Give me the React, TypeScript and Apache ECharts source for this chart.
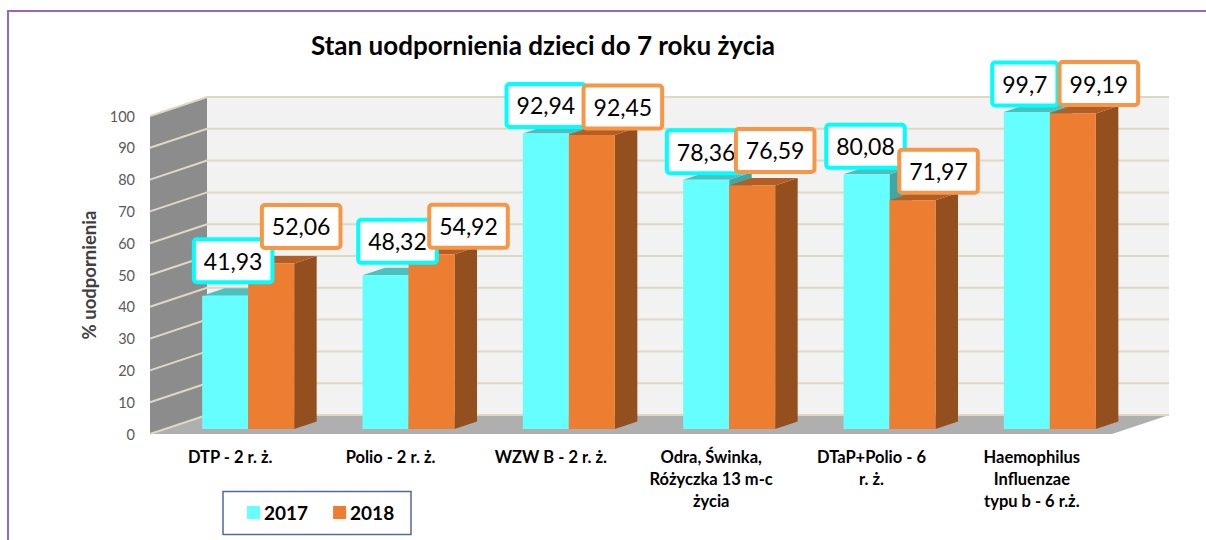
import React, { useEffect, useRef } from "react";
import * as echarts from "echarts";

const categories = [
  "DTP - 2 r. ż.",
  "Polio - 2 r. ż.",
  "WZW B - 2 r. ż.",
  "Odra, Świnka,\nRóżyczka 13 m-c\nżycia",
  "DTaP+Polio - 6\nr. ż.",
  "Haemophilus\nInfluenzae\ntypu b - 6 r.ż.",
];
const values2017 = [41.93, 48.32, 92.94, 78.36, 80.08, 99.7];
const values2018 = [52.06, 54.92, 92.45, 76.59, 71.97, 99.19];
const labels2017 = ["41,93", "48,32", "92,94", "78,36", "80,08", "99,7"];
const labels2018 = ["52,06", "54,92", "92,45", "76,59", "71,97", "99,19"];
const yTicks = [0, 10, 20, 30, 40, 50, 60, 70, 80, 90, 100];

// manual label placement, relative to each bar's top centre
const labelOffset2017 = [[8, -35], [12, -34], [0, -28], [0, -28], [-1, -28], [-2, -28]];
const labelOffset2018 = [[30, -37], [37, -28], [31, -28], [23, -35], [26, -29], [26, -30]];

const FONT = "Lato, 'Open Sans', sans-serif";
const WALL_DX = 57;
const WALL_DY = -19;
const BAR_W = 46;
const BAR_DX = 22.5;
const BAR_DY = -7.5;
const BASE_DX = 18;
const BASE_DY = -5;

const poly = (points: number[][], fill: string) => ({
  type: "polygon",
  shape: { points },
  style: { fill },
  silent: true,
});

function wallItem(params: any, api: any) {
  const cs = params.coordSys;
  const v = api.value(1);
  const y = api.coord([0, v])[1];
  const left = cs.x;
  const right = cs.x + cs.width;
  const bottom = cs.y + cs.height;
  const top = cs.y;
  const children: any[] = [];
  if (params.dataIndex === 0) {
    children.push(
      poly([[left + WALL_DX, top + WALL_DY], [right + WALL_DX, top + WALL_DY], [right + WALL_DX, bottom + WALL_DY], [left + WALL_DX, bottom + WALL_DY]], "#F2F2F2"),
      poly([[left, top], [left + WALL_DX, top + WALL_DY], [left + WALL_DX, bottom + WALL_DY], [left, bottom]], "#8C8C8C"),
      poly([[left, bottom], [right, bottom], [right + WALL_DX, bottom + WALL_DY], [left + WALL_DX, bottom + WALL_DY]], "#AFAFAF"),
    );
  }
  const lineStyle = { stroke: "#DDD9C3", lineWidth: 2, fill: "none" };
  children.push({
    type: "polyline",
    shape: { points: [[left, y], [left + WALL_DX, y + WALL_DY], [right + WALL_DX, y + WALL_DY]] },
    style: lineStyle,
    silent: true,
  });
  return { type: "group", children };
}

const barItem = (front: string, top: string, side: string, shift: number) => (_: any, api: any) => {
  const i = api.value(0);
  const base = api.coord([i, 0]);
  const head = api.coord([i, api.value(1)]);
  const x0 = base[0] + BASE_DX + shift;
  const x1 = x0 + BAR_W;
  const y0 = base[1] + BASE_DY;
  const y1 = head[1] + BASE_DY;
  return {
    type: "group",
    children: [
      poly([[x1, y0], [x1 + BAR_DX, y0 + BAR_DY], [x1 + BAR_DX, y1 + BAR_DY], [x1, y1]], side),
      poly([[x0, y1], [x1, y1], [x1 + BAR_DX, y1 + BAR_DY], [x0 + BAR_DX, y1 + BAR_DY]], top),
      poly([[x0, y0], [x1, y0], [x1, y1], [x0, y1]], front),
    ],
  };
};

const labelItem = (texts: string[], offsets: number[][], border: string, shift: number) => (_: any, api: any) => {
  const i = api.value(0);
  const head = api.coord([i, api.value(1)]);
  const x = head[0] + BASE_DX + shift + BAR_W / 2 + offsets[i][0];
  const y = head[1] + BASE_DY + offsets[i][1];
  return {
    type: "text",
    x,
    y,
    silent: true,
    style: {
      text: texts[i],
      font: `400 23px ${FONT}`,
      fill: "#000000",
      align: "center",
      verticalAlign: "middle",
      lineHeight: 23,
      backgroundColor: "#FFFFFF",
      borderColor: border,
      borderWidth: 4,
      borderRadius: 1,
      padding: [8, 8],
    },
  };
};

const toData = (vals: number[]) => vals.map((v, i) => [i, v]);

export default function App() {
  const ref = useRef<HTMLDivElement>(null);
  useEffect(() => {
    document.body.style.margin = "0";
    const chart = echarts.init(ref.current!, undefined, { renderer: "svg" });
    chart.setOption({
      animation: false,
      backgroundColor: "#FFFFFF",
      textStyle: { fontFamily: FONT },
      title: {
        text: "Stan uodpornienia dzieci do 7 roku życia",
        left: 311,
        top: 32,
        padding: 0,
        textStyle: { fontFamily: FONT, fontSize: 26, fontWeight: 700, color: "#000000" },
      },
      grid: { left: 150, right: 94, top: 116, bottom: 106 },
      xAxis: {
        type: "category",
        data: categories,
        axisLine: { show: false },
        axisTick: { show: false },
        splitLine: { show: false },
        axisLabel: {
          interval: 0,
          margin: 12,
          lineHeight: 22,
          fontFamily: FONT,
          fontSize: 16.5,
          fontWeight: 700,
          color: "#000000",
        },
      },
      yAxis: {
        type: "value",
        min: 0,
        max: 100,
        interval: 10,
        axisLine: { show: false },
        axisTick: { show: false },
        splitLine: { show: false },
        axisLabel: { margin: 15, fontFamily: FONT, fontSize: 14.5, color: "#595959" },
        name: "% uodpornienia",
        nameLocation: "middle",
        nameGap: 50,
        nameRotate: 90,
        nameTextStyle: { fontFamily: FONT, fontSize: 18.5, fontWeight: 700, color: "#404040" },
      },
      legend: {
        data: ["2017", "2018"],
        left: 247,
        top: 503,
        padding: 0,
        icon: "rect",
        itemWidth: 13,
        itemHeight: 13,
        itemGap: 25,
        textStyle: { fontFamily: FONT, fontSize: 19, fontWeight: 700, color: "#000000", padding: [0, 0, 0, -1] },
        selectedMode: false,
      },
      graphic: [
        {
          type: "polyline",
          z: 0,
          silent: true,
          shape: { points: [[8, 545], [8, 11], [1210, 11]] },
          style: { stroke: "#9966BB", lineWidth: 2, fill: "none" },
        },
        {
          type: "rect",
          silent: true,
          shape: { x: 223, y: 491.5, width: 188, height: 43 },
          style: { stroke: "#4F6A9B", lineWidth: 1.5, fill: "none" },
        },
      ],
      series: [
        { type: "custom", name: "walls", z: 1, renderItem: wallItem, data: yTicks.map((v) => [0, v]), silent: true },
        {
          type: "custom",
          name: "2017",
          z: 3,
          itemStyle: { color: "#66FFFF" },
          renderItem: barItem("#66FFFF", "#4DBFBF", "#40A6A6", -BAR_W),
          data: toData(values2017),
        },
        {
          type: "custom",
          name: "2018",
          z: 4,
          itemStyle: { color: "#ED7D31" },
          renderItem: barItem("#ED7D31", "#B25E25", "#944F1E", 0),
          data: toData(values2018),
        },
        {
          type: "custom",
          name: "etykiety 2017",
          z: 5,
          renderItem: labelItem(labels2017, labelOffset2017, "#00FFFF", -BAR_W),
          data: toData(values2017),
        },
        {
          type: "custom",
          name: "etykiety 2018",
          z: 6,
          renderItem: labelItem(labels2018, labelOffset2018, "#F79646", 0),
          data: toData(values2018),
        },
      ],
    });
    return () => chart.dispose();
  }, []);
  return <div ref={ref} style={{ width: 1206, height: 540 }} />;
}
